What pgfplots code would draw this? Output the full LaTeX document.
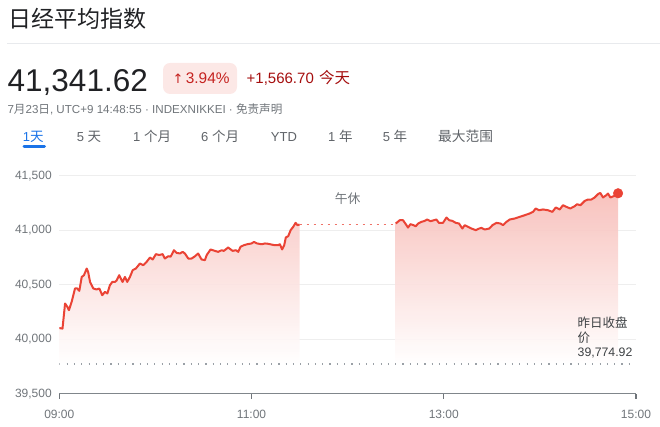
\documentclass[border=0pt]{standalone}
\usepackage{fontspec}
\setmainfont{Liberation Sans}
\newfontfamily\cjk{Noto Sans CJK SC}
\newfontfamily\dejavu{DejaVu Sans}
\usepackage{pgfplots}
\pgfplotsset{compat=1.18}
\usepackage{pgfplotstable}

\definecolor{txt}{HTML}{202124}
\definecolor{sub}{HTML}{70757A}
\definecolor{tabc}{HTML}{5F6368}
\definecolor{gblue}{HTML}{1A73E8}
\definecolor{gred}{HTML}{EA4335}
\definecolor{badge}{HTML}{FCE8E6}
\definecolor{badgetxt}{HTML}{C5221F}
\definecolor{chg}{HTML}{A50E0E}
\definecolor{sepc}{HTML}{E8EAED}
\definecolor{gridc}{HTML}{EEEEEE}
\definecolor{axisc}{HTML}{80868B}
\definecolor{tickc}{HTML}{70757A}
\definecolor{prevc}{HTML}{9AA0A6}
\definecolor{notec}{HTML}{3C4043}

\newcommand\fs[1]{\fontsize{#1}{#1}\selectfont}
\newcommand\cj[1]{{\cjk #1}}

% minutes after 09:00, index value
\pgfplotstableread{
t v
0 40105
2 40100
3.6 40330
5 40300
6 40269
7.7 40345
9.8 40468
11.2 40468
12.5 40446
14 40574
15.4 40590
17.1 40651
18 40620
19.2 40528
21.2 40468
23.3 40459
25 40468
26.8 40406
28.5 40437
30 40422
31.6 40498
33.1 40528
34.7 40528
35.7 40540
37.4 40590
39.5 40528
41 40574
42.4 40528
44.1 40574
45.8 40636
47.8 40651
50.3 40697
52.4 40682
54.5 40712
56.6 40752
58.3 40734
60.3 40783
62.4 40775
64.5 40783
65.9 40743
68 40764
69.5 40760
71.6 40819
73.2 40795
75.3 40789
77 40804
78.4 40789
80.5 40743
82.6 40743
84.7 40764
86.7 40789
88.8 40734
90.9 40728
92 40774
94.4 40826
97.1 40813
99.2 40804
101.3 40819
102.7 40813
105.4 40844
108.2 40813
110.3 40819
111.7 40804
113.1 40850
115.2 40865
117.3 40874
120 40881
121.5 40895
123.5 40881
126.3 40874
128.4 40881
130.4 40878
132.5 40871
134.6 40865
136.6 40865
137.7 40874
139.1 40826
140.4 40865
141.4 40936
142.9 40948
144.4 41003
146 41033
147.5 41070
148.7 41049
150 41055
}\morning

\pgfplotstableread{
t v
210 41064
212.5 41094
214.6 41094
216 41064
217.7 41027
219.2 41058
220.9 41050
222.5 41039
224 41064
226 41079
228.1 41088
229.6 41101
231.7 41085
233.8 41094
235.4 41101
237 41070
239.5 41070
241.7 41119
243.4 41094
245.4 41088
247.5 41070
249.5 41064
251.6 41018
253.1 41049
255.2 41033
257.3 41018
260 41003
262.1 41018
263.5 41024
265.6 41009
268.4 41018
270.4 41049
272.9 41070
275.4 41064
277 41049
279.1 41079
281.2 41101
284.3 41110
287.4 41125
290.5 41140
293.6 41156
295.7 41171
297.4 41202
299.5 41186
301.9 41193
305 41186
307.8 41171
309.9 41211
312.4 41193
314.4 41232
316.5 41217
319 41202
321.7 41223
323.2 41241
325.3 41232
328 41272
330 41284
332.1 41284
334.2 41303
336.2 41333
337.7 41345
339.4 41303
341.5 41324
342.5 41339
344 41303
346.1 41315
348.8 41341.62
}\afternoon

\begin{document}
\begin{tikzpicture}
\useasboundingbox (0,0) rectangle (660pt,427pt);

% header
\node[anchor=base west, inner sep=0, text=txt, font=\cjk\fs{23}] at (8pt,399pt) {日经平均指数};
\draw[sepc, line width=1pt] (7pt,383.7pt) -- (660pt,383.7pt);
\node[anchor=base west, inner sep=0, text=txt, font=\fs{31.5}] at (7.5pt,335.3pt) {41,341.62};
\fill[badge, rounded corners=7pt] (163pt,333pt) rectangle (237pt,364pt);
\node[anchor=base west, inner sep=0, text=badgetxt, font=\dejavu\fs{13}] at (172.5pt,343.7pt) {↑};
\node[anchor=base west, inner sep=0, text=badgetxt, font=\fs{15.4}] at (185.7pt,343.7pt) {3.94\%};
\node[anchor=base west, inner sep=0, text=chg, font=\fs{15}] at (246.5pt,343.7pt) {+1,566.70};
\node[anchor=base west, inner sep=0, text=chg, font=\cjk\fs{15.5}] at (319pt,343.7pt) {今天};
\node[anchor=base west, inner sep=0, text=sub, font=\fs{11.6}] at (7.3pt,313.7pt)
  {7\cj{月}23\cj{日}, UTC+9 14:48:55 · INDEXNIKKEI · \cj{免责声明}};

% range tabs
\node[anchor=base west, inner sep=0, text=gblue, font=\fs{13}] at (22.7pt,285.3pt) {1\cj{\fs{13.5}天}};
\draw[gblue, line width=3pt, line cap=round] (24pt,280.3pt) -- (44.5pt,280.3pt);
\node[anchor=base west, inner sep=0, text=tabc, font=\fs{13}] at (76.7pt,285.3pt) {5 \cj{\fs{13.5}天}};
\node[anchor=base west, inner sep=0, text=tabc, font=\fs{13}] at (133pt,285.3pt) {1 \cj{\fs{13.5}个月}};
\node[anchor=base west, inner sep=0, text=tabc, font=\fs{13}] at (201pt,285.3pt) {6 \cj{\fs{13.5}个月}};
\node[anchor=base west, inner sep=0, text=tabc, font=\fs{13}] at (270.7pt,285.3pt) {YTD};
\node[anchor=base west, inner sep=0, text=tabc, font=\fs{13}] at (328pt,285.3pt) {1 \cj{\fs{13.5}年}};
\node[anchor=base west, inner sep=0, text=tabc, font=\fs{13}] at (382.7pt,285.3pt) {5 \cj{\fs{13.5}年}};
\node[anchor=base west, inner sep=0, text=tabc, font=\cjk\fs{13.7}] at (438pt,285.3pt) {最大范围};

\begin{axis}[
  at={(59.3pt,33pt)}, anchor=south west,
  scale only axis, width=576.7pt, height=218pt,
  xmin=0, xmax=360, ymin=39500, ymax=41500,
  axis x line*=bottom, axis y line*=left,
  x axis line style={-, draw=axisc, line width=1pt},
  y axis line style={draw=none},
  xtick={0,120,240,360}, xticklabels={09:00,11:00,13:00,15:00},
  ytick={39500,40000,40500,41000,41500},
  xtick align=outside, major tick length=5pt,
  xtick style={draw=tickc, line width=1.3pt},
  ytick style={draw=none},
  ymajorgrids, grid style={gridc, line width=1pt},
  tick label style={font=\fs{12}, text=sub},
  yticklabel style={xshift=-4pt},
  xticklabel style={yshift=-7.5pt},
  scaled y ticks=false,
  /pgf/number format/assume math mode=true,
  /pgf/number format/1000 sep={,},
]
\addplot[draw=none, fill opacity=0.92, top color=gred!26!white, middle color=gred!7!white, bottom color=white]
  table[x=t, y=v] {\morning} -- (150,39774.92) -- (0,39774.92) -- cycle;
\addplot[draw=none, fill opacity=0.92, top color=gred!35!white, middle color=gred!9!white, bottom color=white]
  table[x=t, y=v] {\afternoon} -- (348.8,39774.92) -- (210,39774.92) -- cycle;
\addplot[prevc, line width=1.2pt, dash pattern=on 1.2pt off 6.1pt] coordinates {(0,39774.92) (360,39774.92)};
\addplot[gred!75, line width=1.2pt, dash pattern=on 2.5pt off 4.5pt] coordinates {(150,41055) (210,41055)};
\addplot[gred, line width=2pt, line join=round, mark=none] table[x=t, y=v] {\morning};
\addplot[gred, line width=2pt, line join=round, mark=none] table[x=t, y=v] {\afternoon};
\addplot[only marks, mark=*, mark size=4.8pt, gred] coordinates {(348.8,41341.62)};
\end{axis}

% notes in the plot
\node[anchor=base, inner sep=0, text=sub, font=\cjk\fs{12.8}] at (347.7pt,223pt) {午休};
\node[anchor=base west, inner sep=0, text=notec, font=\cjk\fs{12.5}] at (577.5pt,99.7pt) {昨日收盘};
\node[anchor=base west, inner sep=0, text=notec, font=\cjk\fs{12.5}] at (577.5pt,84pt) {价};
\node[anchor=base west, inner sep=0, text=notec, font=\fs{12.3}] at (577.5pt,70.3pt) {39,774.92};
\end{tikzpicture}
\end{document}
